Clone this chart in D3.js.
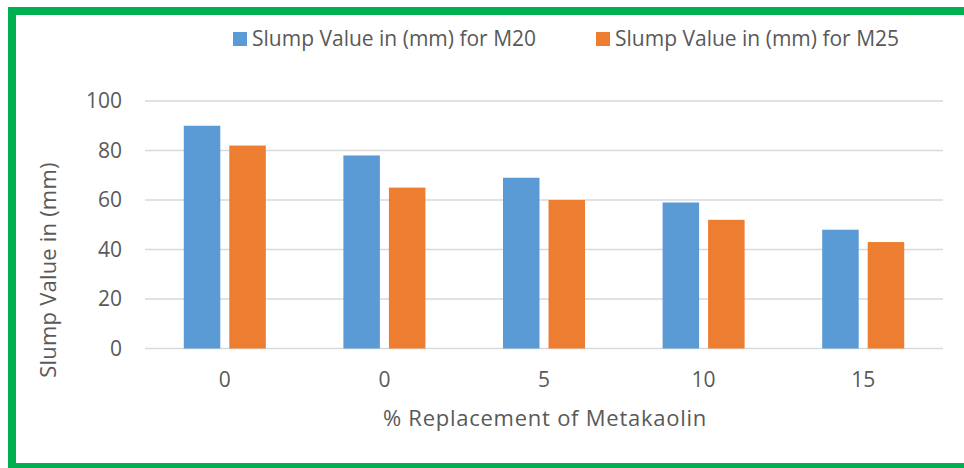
<!DOCTYPE html>
<html><head><meta charset="utf-8">
<script src="https://cdn.jsdelivr.net/npm/d3@7"></script>
<style>body{margin:0;background:#fff}svg{display:block}text{font-family:"Open Sans",sans-serif;fill:#595959}</style>
</head><body><svg id="c" width="964" height="468"></svg>
<script>
const categories = ["0", "0", "5", "10", "15"];
const seriesNames = ["Slump Value in (mm) for M20", "Slump Value in (mm) for M25"];
const m20 = [90, 78, 69, 59, 48];
const m25 = [82, 65, 60, 52, 43];
const yTicks = [0, 20, 40, 60, 80, 100];
const colors = ["#5b9bd5", "#ed7d31"];

(function () {
const svg = d3.select("#c");
const pL = 145, pR = 943, pT = 101, pB = 348.5;
const idx = d3.range(categories.length);
const x0 = d3.scaleBand().domain(idx).range([pL, pR]).paddingInner(0.486).paddingOuter(0.243);
const x1 = d3.scaleBand().domain([0, 1]).range([0, x0.bandwidth()]).paddingInner(0.198);
const y = d3.scaleLinear().domain([0, 100]).range([pB, pT]);

// gridlines
svg.append("g").selectAll("line").data(yTicks).join("line")
  .attr("x1", pL).attr("x2", pR)
  .attr("y1", d => y(d)).attr("y2", d => y(d))
  .attr("stroke", "#d9d9d9").attr("stroke-width", 1.5);

// y axis labels
const yAxis = d3.axisLeft(y).tickValues(yTicks).tickSize(0).tickPadding(0);
const ya = svg.append("g").attr("transform", `translate(${pL - 23},0)`).call(yAxis);
ya.select(".domain").remove();
ya.selectAll("text").attr("font-size", 21).attr("fill", "#595959").style("font-family", '"Open Sans",sans-serif');

// bars
const series = [m20, m25];
series.forEach((vals, s) => {
  svg.append("g").selectAll("rect").data(vals).join("rect")
    .attr("x", (d, i) => x0(i) + x1(s))
    .attr("width", x1.bandwidth())
    .attr("y", d => y(d))
    .attr("height", d => y(0) - y(d))
    .attr("fill", colors[s]);
});

// x axis labels
const xAxis = d3.axisBottom(x0).tickFormat(i => categories[i]).tickSize(0).tickPadding(0);
const xa = svg.append("g").attr("transform", `translate(0,${pB + 23.5})`).call(xAxis);
xa.select(".domain").remove();
xa.selectAll("text").attr("font-size", 21).attr("fill", "#595959").style("font-family", '"Open Sans",sans-serif');

// axis titles
svg.append("text").attr("x", 545).attr("y", 426).attr("text-anchor", "middle")
  .attr("font-size", 22).attr("letter-spacing", 0.75).text("% Replacement of Metakaolin");
svg.append("text").attr("transform", "translate(56,270) rotate(-90)").attr("text-anchor", "middle")
  .attr("font-size", 22).attr("letter-spacing", 0.2).text("Slump Value in (mm)");

// legend
const legX = [233, 596];
seriesNames.forEach((n, s) => {
  svg.append("rect").attr("x", legX[s]).attr("y", 32).attr("width", 14).attr("height", 14).attr("fill", colors[s]);
  svg.append("text").attr("x", legX[s] + 19).attr("y", 46).attr("font-size", 21).text(n);
});

// green frame
svg.append("rect").attr("x", 12).attr("y", 11).attr("width", 1000).attr("height", 456)
  .attr("fill", "none").attr("stroke", "#00b050").attr("stroke-width", 8);
})();
</script></body></html>
